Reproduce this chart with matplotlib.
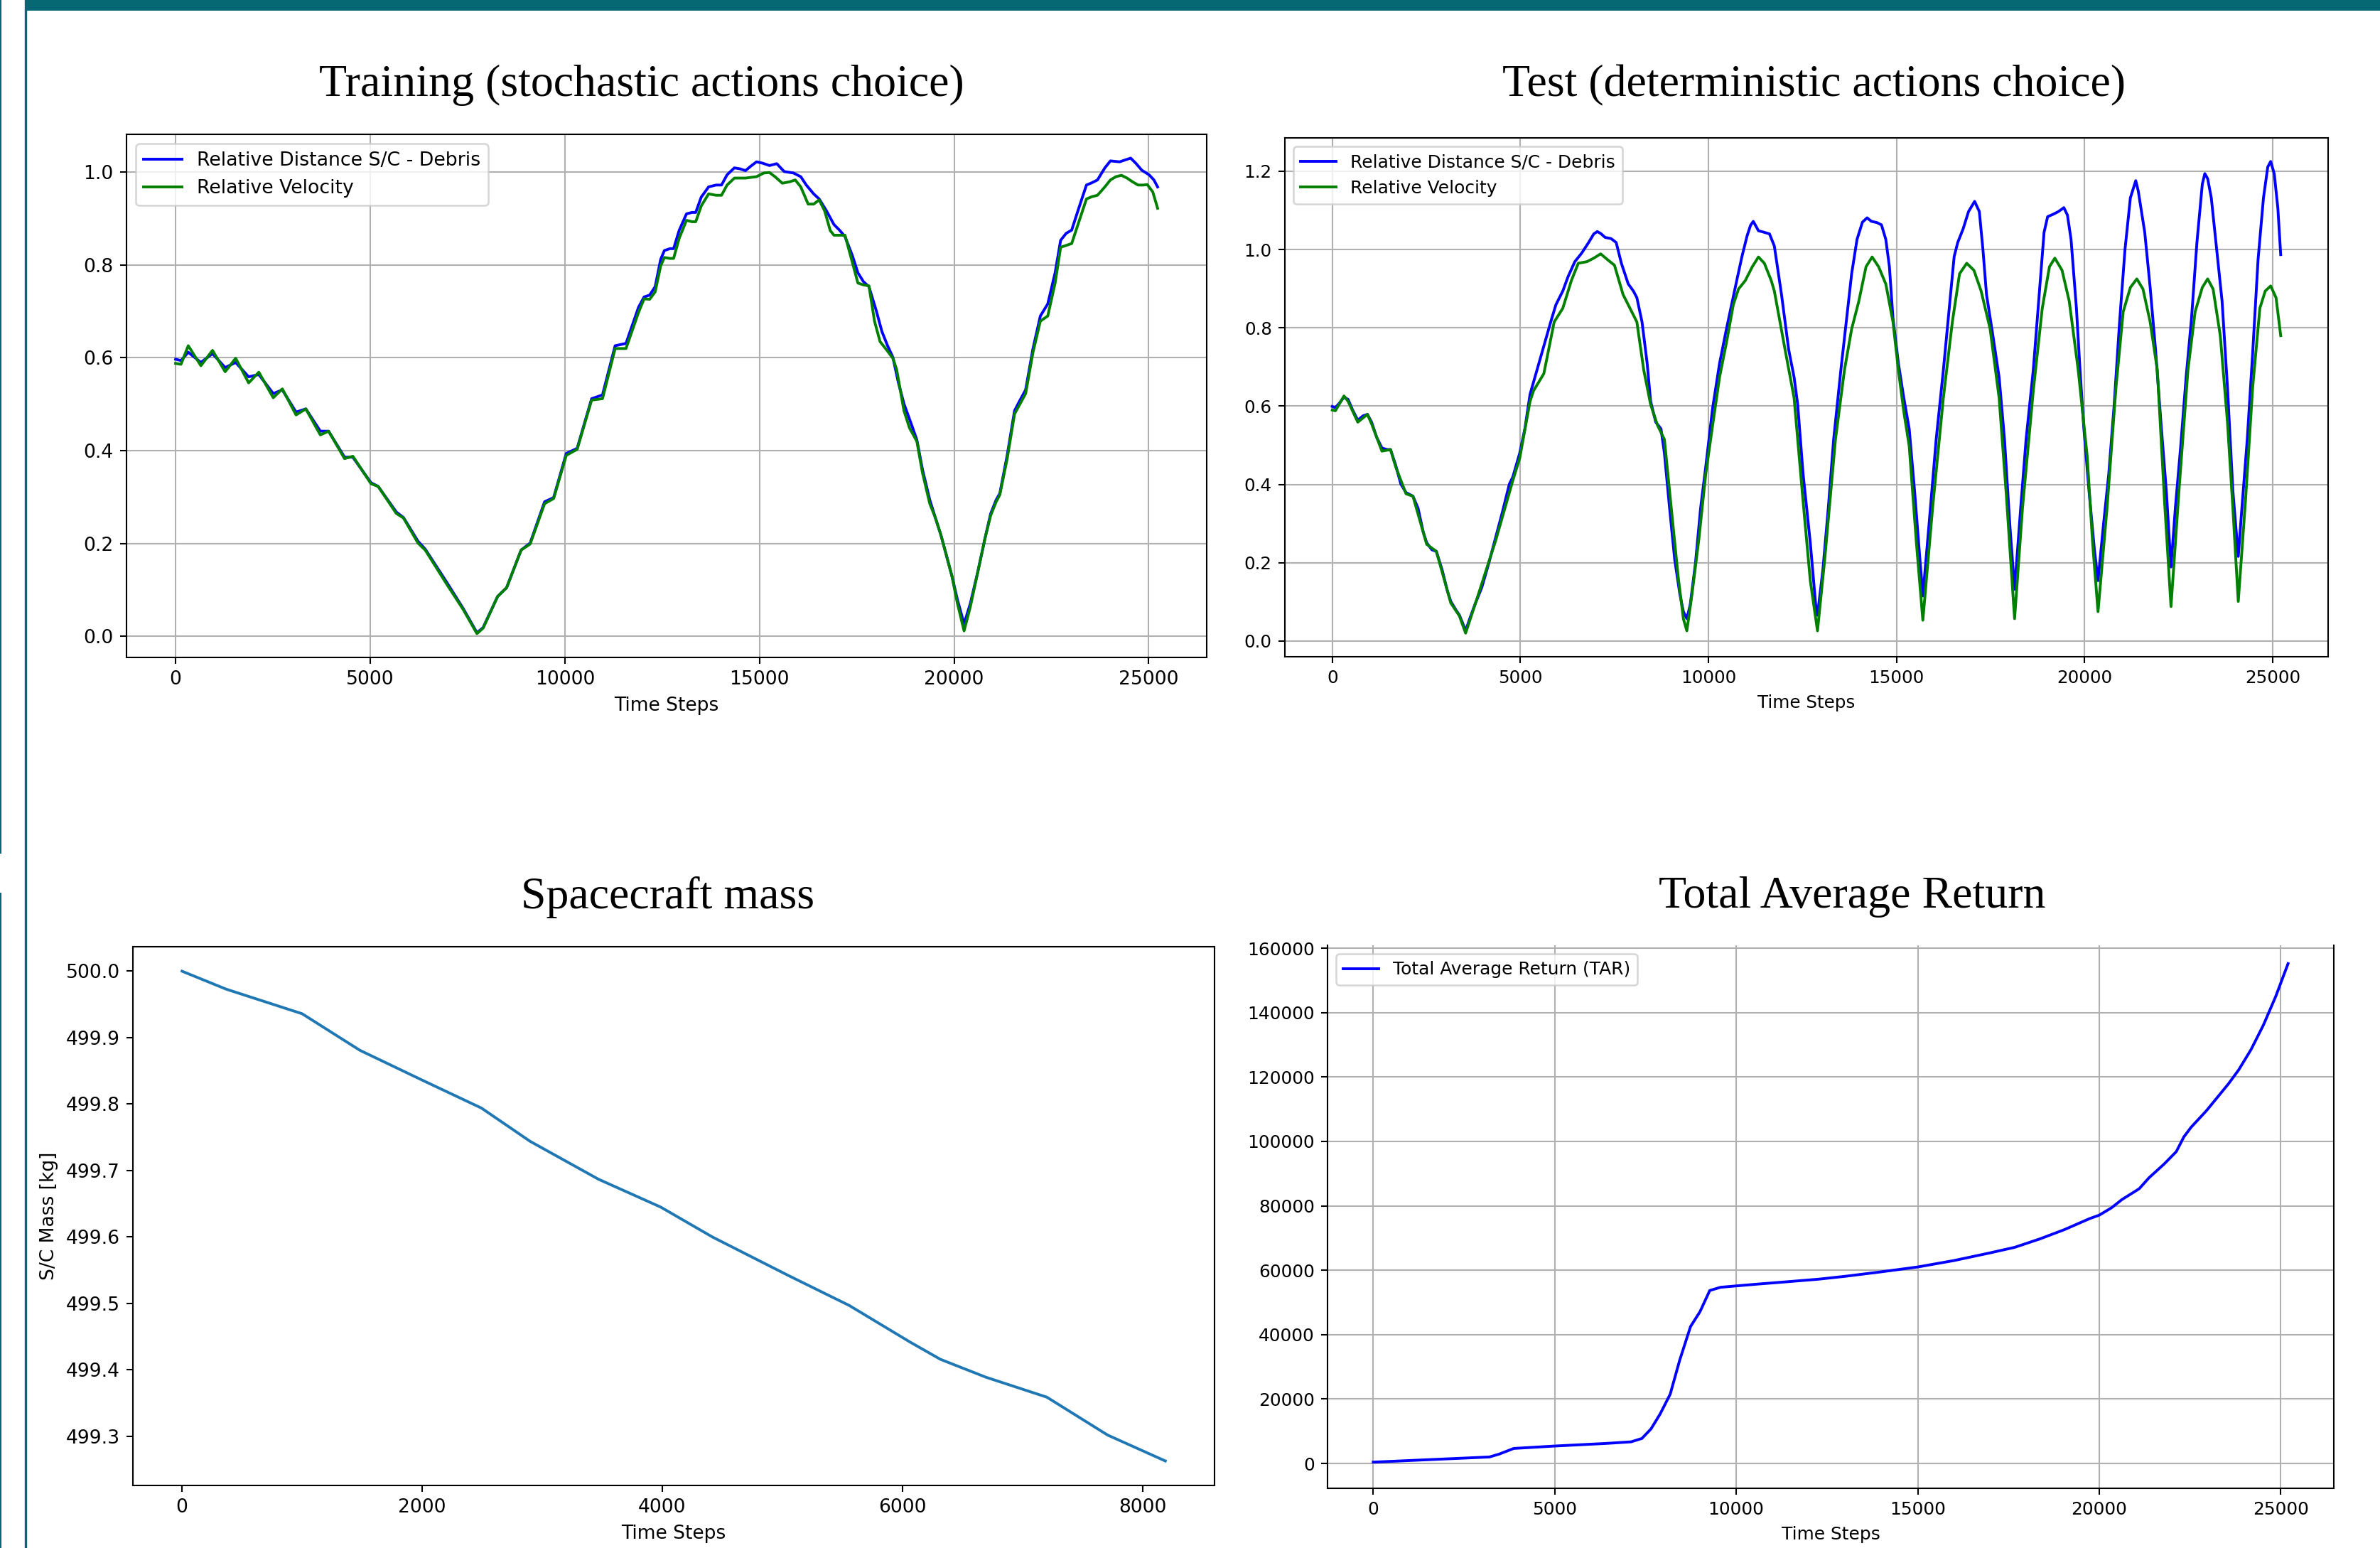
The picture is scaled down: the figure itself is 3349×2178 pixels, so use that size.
import matplotlib
matplotlib.use("Agg")
import matplotlib.pyplot as plt
from matplotlib.lines import Line2D
from matplotlib.patches import Rectangle

# ---------------- data (time step, value) ----------------
train_distance = [
    (0, .597), (139, .594), (325, .612), (650, .590), (948, .609), (1273, .579), (1543, .590),
    (1877, .559), (2138, .564), (2509, .523), (2742, .531), (3095, .483), (3346, .490),
    (3718, .442), (3931, .442), (4340, .386), (4554, .386), (5019, .331), (5205, .323),
    (5669, .268), (5855, .256), (6227, .205), (6413, .188), (6970, .116), (7389, .060),
    (7742, .008), (7900, .019), (8272, .086), (8504, .105), (8876, .186), (9108, .201),
    (9480, .290), (9712, .299), (10037, .394), (10316, .405), (10688, .512), (10967, .520),
    (11292, .626), (11571, .631),
    (11894, .709), (12036, .731), (12178, .735), (12320, .753), (12462, .812), (12557, .831),
    (12699, .835), (12794, .835), (12936, .874), (13125, .910), (13267, .913), (13362, .913),
    (13504, .946), (13693, .968), (13883, .972), (14025, .972), (14167, .994), (14356, 1.009),
    (14498, 1.007), (14640, 1.003), (14782, 1.013), (14924, 1.022), (15085, 1.019),
    (15256, 1.014), (15445, 1.018), (15635, 1.001), (15871, .998), (16061, .990),
    (16203, .972), (16392, .953), (16534, .942), (16724, .916), (16913, .887), (17055, .875),
    (17197, .861), (17387, .820), (17529, .783), (17671, .764), (17813, .753), (18002, .701),
    (18144, .657), (18286, .627), (18428, .601), (18570, .546), (18712, .501), (18902, .457),
    (19044, .423), (19186, .360), (19375, .294), (19517, .256), (19659, .219), (19801, .175),
    (19944, .130), (20086, .079), (20256, .027), (20417, .071), (20606, .138), (20796, .212),
    (20938, .264), (21080, .294), (21175, .308), (21364, .390), (21553, .486), (21695, .509),
    (21838, .531), (22027, .620), (22216, .690), (22406, .716), (22595, .783), (22737, .853),
    (22879, .868), (23021, .875), (23210, .924), (23400, .972), (23542, .977), (23684, .983),
    (23873, 1.009), (24016, 1.024), (24129, 1.023), (24252, 1.022), (24394, 1.026),
    (24536, 1.030), (24679, 1.018), (24821, 1.004), (25010, .994), (25133, .983),
    (25228, .968)]
train_velocity = [
    (0, .588), (139, .586), (325, .626), (650, .583), (948, .616), (1273, .570), (1543, .599),
    (1877, .546), (2138, .569), (2509, .514), (2742, .533), (3095, .477), (3346, .490),
    (3718, .434), (3931, .442), (4340, .383), (4554, .388), (5019, .329), (5205, .323),
    (5669, .265), (5855, .255), (6227, .201), (6413, .186), (6970, .112), (7389, .058),
    (7742, .006), (7900, .018), (8272, .086), (8504, .105), (8876, .186), (9108, .199),
    (9480, .286), (9712, .297), (10037, .390), (10316, .403), (10688, .509), (10967, .512),
    (11292, .620), (11571, .620),
    (11894, .698), (12036, .727), (12178, .726), (12320, .742), (12462, .798), (12557, .816),
    (12699, .814), (12794, .814), (12936, .857), (13125, .896), (13267, .893), (13362, .893),
    (13504, .927), (13693, .953), (13883, .950), (14025, .950), (14167, .972), (14356, .987),
    (14640, .987), (14924, .990), (15114, .998), (15256, .999), (15398, .990), (15587, .976),
    (15777, .979), (15919, .983), (16061, .968), (16250, .931), (16392, .931), (16534, .940),
    (16676, .916), (16818, .874), (16913, .864), (17055, .864), (17197, .864), (17387, .805),
    (17529, .761), (17671, .757), (17813, .755), (17955, .679), (18097, .635), (18239, .620),
    (18428, .599), (18523, .575), (18712, .486), (18854, .449), (19044, .420), (19186, .353),
    (19375, .286), (19517, .256), (19659, .219), (19801, .175), (19944, .130), (20086, .071),
    (20256, .012), (20417, .064), (20606, .138), (20796, .212), (20938, .260), (21080, .290),
    (21175, .305), (21364, .383), (21553, .479), (21695, .501), (21838, .523), (22027, .612),
    (22216, .679), (22406, .690), (22595, .761), (22737, .838), (22879, .842), (23021, .846),
    (23210, .894), (23400, .942), (23542, .947), (23684, .950), (23873, .968), (24016, .983),
    (24158, .990), (24300, .993), (24442, .987), (24584, .979), (24726, .972), (24868, .972),
    (24963, .973), (25105, .957), (25228, .922)]

test_distance = [
    (0, .599), (82, .596), (192, .608), (311, .623), (421, .617), (540, .590), (678, .564),
    (815, .575), (934, .579), (1044, .559), (1181, .520), (1319, .493), (1456, .489),
    (1548, .489), (1685, .449), (1822, .401), (1960, .379), (2143, .370), (2280, .339),
    (2418, .278), (2509, .251), (2647, .233), (2766, .229), (2921, .181), (3059, .128),
    (3150, .101), (3288, .079), (3379, .066), (3471, .044), (3544, .026), (3654, .057),
    (3791, .093), (3975, .137), (4158, .198), (4341, .264), (4524, .330), (4707, .401),
    (4799, .419), (4982, .480), (5119, .542), (5256, .630), (5440, .692), (5623, .753),
    (5806, .815), (5944, .859), (6127, .894), (6264, .930), (6447, .969), (6630, .991),
    (6814, 1.018), (6951, 1.040), (7043, 1.046), (7134, 1.041), (7253, 1.031), (7409, 1.028),
    (7546, 1.018), (7684, .965), (7867, .912), (8004, .894), (8096, .877), (8233, .815),
    (8370, .709), (8462, .612), (8599, .559), (8737, .542), (8828, .480), (8966, .339),
    (9103, .207), (9240, .119), (9332, .075), (9424, .057), (9515, .093), (9653, .198),
    (9790, .339), (9927, .445), (10110, .595), (10294, .709), (10477, .797), (10614, .859),
    (10751, .921), (10889, .982), (11026, 1.035), (11118, 1.062), (11191, 1.072),
    (11328, 1.048), (11484, 1.044), (11621, 1.040),
    (11750, 1.009), (11941, .885), (12132, .744), (12275, .674), (12371, .604), (12514, .427),
    (12706, .251), (12849, .093), (12897, .066), (13040, .181), (13184, .339), (13327, .515),
    (13518, .692), (13662, .815), (13805, .938), (13948, 1.026), (14092, 1.070), (14216, 1.081),
    (14331, 1.072), (14474, 1.069), (14598, 1.063), (14713, 1.026), (14809, .956),
    (14904, .824), (15048, .709), (15191, .621), (15335, .542), (15478, .383), (15621, .207),
    (15698, .115), (15860, .295), (16052, .515), (16243, .692), (16434, .885), (16530, .982),
    (16625, 1.018), (16769, 1.053), (16912, 1.097), (17074, 1.123), (17199, 1.097),
    (17295, 1.000), (17390, .885), (17533, .797), (17725, .674), (17868, .515), (18011, .295),
    (18136, .132), (18298, .339), (18442, .515), (18633, .692), (18776, .868), (18920, 1.044),
    (19015, 1.084), (19159, 1.090), (19302, 1.097), (19446, 1.107), (19541, 1.088),
    (19637, 1.026), (19780, .850), (19876, .692), (19971, .551), (20115, .383), (20258, .233),
    (20354, .154), (20497, .295), (20640, .427), (20784, .604), (20927, .815), (21071, 1.000),
    (21214, 1.132), (21357, 1.176), (21423, 1.150), (21596, 1.044), (21740, .903),
    (21883, .744), (22026, .559), (22170, .383), (22294, .189), (22409, .339), (22552, .498),
    (22696, .674), (22839, .824), (22983, 1.018), (23126, 1.167), (23193, 1.194),
    (23269, 1.181), (23365, 1.132), (23509, 1.000), (23652, .868), (23795, .648),
    (23939, .383), (24082, .216), (24178, .339), (24321, .515), (24465, .736), (24608, .974),
    (24752, 1.132), (24866, 1.211), (24943, 1.225), (25038, 1.194), (25134, 1.106),
    (25210, .987)]
test_velocity = [
    (0, .590), (82, .588), (311, .626), (421, .612), (678, .559), (934, .579), (1044, .555),
    (1319, .485), (1548, .489), (1685, .445), (1960, .376), (2143, .370), (2509, .247),
    (2766, .229), (3150, .097), (3379, .064), (3544, .020), (3883, .119), (4341, .256),
    (4799, .410), (4982, .467), (5256, .612), (5348, .639), (5623, .683), (5898, .815),
    (6127, .850), (6356, .921), (6539, .965), (6768, .969), (6951, .978), (7134, .989),
    (7317, .974), (7500, .960), (7729, .885), (7913, .850), (8096, .815), (8279, .692),
    (8462, .604), (8645, .551), (8828, .515), (9011, .339), (9195, .163), (9332, .057),
    (9424, .026), (9561, .119), (9744, .260), (9927, .427), (10110, .551), (10294, .674),
    (10477, .762), (10660, .859), (10797, .899), (10980, .921), (11164, .956), (11328, .981),
    (11484, .965), (11667, .921),
    (11750, .894), (12036, .744), (12275, .621), (12514, .357), (12706, .154), (12897, .026),
    (13088, .207), (13375, .515), (13614, .692), (13805, .797), (13996, .868), (14187, .956),
    (14350, .981), (14522, .956), (14713, .912), (14904, .815), (15048, .692), (15191, .586),
    (15335, .498), (15526, .251), (15698, .053), (15956, .339), (16243, .621), (16482, .815),
    (16673, .938), (16864, .965), (17055, .947), (17247, .894), (17486, .797), (17725, .621),
    (17916, .374), (18136, .057), (18346, .339), (18633, .639), (18872, .850), (19063, .956),
    (19206, .978), (19398, .947), (19589, .868), (19828, .692), (20067, .471), (20210, .251),
    (20354, .075), (20593, .339), (20832, .648), (21023, .841), (21214, .903), (21386, .925),
    (21549, .899), (21740, .815), (21931, .692), (22122, .357), (22294, .088), (22505, .383),
    (22744, .692), (22935, .841), (23126, .903), (23269, .925), (23413, .899), (23604, .780),
    (23795, .559), (23939, .339), (24082, .101), (24273, .357), (24465, .648), (24656, .850),
    (24799, .894), (24943, .907), (25086, .877), (25210, .780)]

mass_kg = [
    (0, 500.000), (367, 499.973), (1000, 499.936), (1481, 499.881), (2013, 499.835),
    (2494, 499.794), (2899, 499.744), (3468, 499.687), (3987, 499.645), (4418, 499.600),
    (5051, 499.542), (5557, 499.497), (6063, 499.442), (6316, 499.416), (6696, 499.389),
    (7203, 499.359), (7709, 499.302), (8190, 499.263)]

total_average_return = [
    (0, 400), (1000, 900), (2000, 1400), (3200, 2000), (3470, 2900), (3870, 4650),
    (5000, 5400), (6400, 6200), (7100, 6700), (7400, 7750), (7650, 10700), (7900, 15300),
    (8180, 21500), (8440, 32000), (8740, 42500), (9000, 47100), (9270, 53700), (9570, 54700),
    (10500, 55600), (11500, 56500), (12260, 57200), (13000, 58100), (14000, 59500),
    (15000, 61000), (16000, 63000), (17000, 65400), (17670, 67100), (18360, 69700),
    (19040, 72600), (19730, 76000), (20000, 77100), (20340, 79400), (20620, 81900),
    (21100, 85300), (21370, 88700), (21780, 92900), (22120, 96800), (22330, 101400),
    (22530, 104400), (22950, 109500), (23560, 117900), (23840, 122200), (24180, 128500),
    (24520, 136100), (24860, 145000), (25200, 155200)]

titles = ["Training (stochastic actions choice)", "Test (deterministic actions choice)",
          "Spacecraft mass", "Total Average Return"]
label_dist = "Relative Distance S/C - Debris"
label_vel = "Relative Velocity"
label_tar = "Total Average Return (TAR)"
xlabel = "Time Steps"
ylabel_mass = "S/C Mass [kg]"
tar_ticks = [0, 20000, 40000, 60000, 80000, 100000, 120000, 140000, 160000]
mass_xticks = [0, 2000, 4000, 6000, 8000]


def xy(points):
    xs, ys = zip(*points)
    return list(xs), list(ys)


# ---------------- figure ----------------
W, H, DPI = 3349, 2178, 187
fig = plt.figure(figsize=(W / DPI, H / DPI), dpi=DPI)
fig.patch.set_facecolor("white")
TEAL = "#066873"


def box(l, t, r, b):
    return [l / W, 1 - b / H, (r - l) / W, (b - t) / H]


# slide decorations
fig.add_artist(Rectangle((35 / W, 1 - 15 / H), 1 - 35 / W, 15 / H,
                         transform=fig.transFigure, color=TEAL, lw=0))
fig.add_artist(Line2D([35.5 / W, 35.5 / W], [0, 1], transform=fig.transFigure,
                      color=TEAL, lw=1.3))
fig.add_artist(Line2D([0.6 / W, 0.6 / W], [1 - 1200 / H, 1], transform=fig.transFigure,
                      color=TEAL, lw=0.8))
fig.add_artist(Line2D([0.6 / W, 0.6 / W], [0, 1 - 1257 / H], transform=fig.transFigure,
                      color=TEAL, lw=0.8))

serif = "Liberation Serif"
tsize = 24.6
fig.text(903 / W, 1 - 120 / H, titles[0], ha="center", va="center", family=serif, fontsize=tsize)
fig.text(2552 / W, 1 - 120 / H, titles[1], ha="center", va="center", family=serif, fontsize=tsize)
fig.text(940 / W, 1 - 1262 / H, titles[2], ha="center", va="center", family=serif, fontsize=tsize)
fig.text(2606 / W, 1 - 1262 / H, titles[3], ha="center", va="center", family=serif, fontsize=tsize)

# ---- Training ----
ax1 = fig.add_axes(box(178, 189, 1698, 925))
ax1.plot(*xy(train_distance), color="blue", lw=1.5, label=label_dist)
ax1.plot(*xy(train_velocity), color="green", lw=1.5, label=label_vel)
ax1.grid(True)
ax1.tick_params(labelsize=10.2)
ax1.set_xlabel(xlabel, fontsize=10.2)
ax1.legend(loc="upper left", fontsize=10.3)

# ---- Test ----
ax2 = fig.add_axes(box(1808, 194, 3276, 924))
ax2.plot(*xy(test_distance), color="blue", lw=1.5, label=label_dist)
ax2.plot(*xy(test_velocity), color="green", lw=1.5, label=label_vel)
ax2.grid(True)
ax2.tick_params(labelsize=9.5)
ax2.set_xlabel(xlabel, fontsize=9.5)
ax2.legend(loc="upper left", fontsize=9.6)

# ---- Mass ----
ax3 = fig.add_axes(box(187, 1332, 1709, 2090))
ax3.plot(*xy(mass_kg), color="C0", lw=1.5)
ax3.tick_params(labelsize=10.2)
ax3.set_xlabel(xlabel, fontsize=10.2)
ax3.set_ylabel(ylabel_mass, fontsize=10.2)
ax3.set_xticks(mass_xticks)

# ---- TAR ----
ax4 = fig.add_axes(box(1868, 1330, 3284, 2094))
ax4.plot(*xy(total_average_return), color="blue", lw=1.5, label=label_tar)
ax4.grid(True)
ax4.set_ylim(-7724, 160883)
ax4.set_yticks(tar_ticks)
ax4.spines["top"].set_visible(False)
ax4.tick_params(labelsize=9.6)
ax4.set_xlabel(xlabel, fontsize=9.6)
ax4.legend(loc="upper left", fontsize=9.6)

fig.savefig("out.png", dpi=DPI, facecolor="white")
